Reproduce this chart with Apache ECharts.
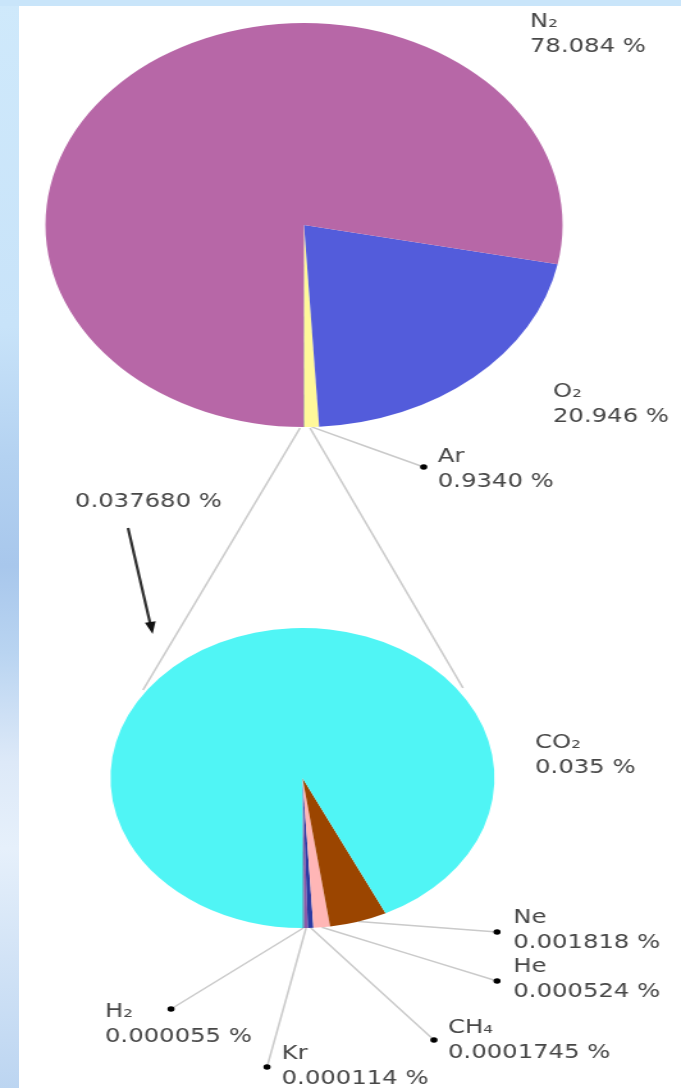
<!DOCTYPE html>
<html>
<head>
<meta charset="utf-8">
<title>Composition of dry air</title>
<script src="https://cdn.jsdelivr.net/npm/echarts@6/dist/echarts.min.js"></script>
<style>
  html, body { margin: 0; padding: 0; width: 681px; height: 1088px; overflow: hidden; background: #ffffff; }
  #frameLeft {
    position: absolute; left: 0; top: 0; width: 19px; height: 1088px;
    background: linear-gradient(to bottom, #cfe9fb 0%, #c8e3f9 30%, #b4d2f1 42%, #a8c7ec 52%, #b9d4f1 60%, #dde9f8 70%, #e6f0fb 78%, #d2e3f6 88%, #bcd5f1 100%);
  }
  #frameTop { position: absolute; left: 0; top: 0; width: 681px; height: 6px; background: #c9e5fa; }
  /* the drawing is laid out on a 532px-wide canvas and widened to the page */
  #chart { position: absolute; left: 0; top: 0; width: 532px; height: 1088px; transform: scaleX(1.28); transform-origin: 0 0; }
</style>
</head>
<body>
<div id="frameLeft"></div>
<div id="frameTop"></div>
<div id="chart"></div>
<script>
// Main constituents of dry air (volume %), listed counter-clockwise from 6 o'clock
const airNames = ['Ar', 'O₂', 'N₂', 'Trace'];
const airValues = ['0.9340', '20.946', '78.084', '0.037680'];
const airColors = ['#fff89a', '#535cdb', '#b767a7', '#7a7a7a'];

// Trace gases that make up the small remainder
const traceNames = ['H₂', 'Kr', 'CH₄', 'He', 'Ne', 'CO₂'];
const traceValues = ['0.000055', '0.000114', '0.0001745', '0.000524', '0.001818', '0.035'];
const traceColors = ['#1a80a2', '#8a5aa8', '#2b3aa3', '#ffb6b6', '#9b4500', '#50f5f5'];

const TEXT_COLOR = '#474747';
const FONT = 'DejaVu Sans';
const LINE_COLOR = '#cacaca';

// Label placement: text block (left, middle) and the dot that ends the leader line
const airSpots = {
  'N₂': { text: [414, 35] },
  'O₂': { text: [432, 405] },
  'Ar': { text: [342, 470], dot: [331, 467] }
};
const traceSpots = {
  'CO₂': { text: [418, 756] },
  'Ne': { text: [401, 931], dot: [388.3, 932] },
  'He': { text: [401, 980], dot: [388.3, 981] },
  'CH₄': { text: [350, 1041], dot: [339, 1040] },
  'Kr': { text: [220, 1067], dot: [208.6, 1067] },
  'H₂': { text: [82, 1025], dot: [133.6, 1009] }
};

function buildData(names, values, colors, spots) {
  return names.map(function (name, i) {
    const spot = spots[name];
    const item = { name: name, value: Number(values[i]), itemStyle: { color: colors[i] } };
    if (!spot) {
      item.label = { show: false };
      item.labelLine = { show: false };
    } else if (!spot.dot) {
      item.labelLine = { show: false };
    }
    return item;
  });
}

function labelFormatter(values) {
  return function (p) { return p.name + '\n' + values[p.dataIndex] + ' %'; };
}

function placeLabels(names, spots) {
  return function (p) {
    const spot = spots[names[p.dataIndex]];
    if (!spot) return {};
    const out = { x: spot.text[0], y: spot.text[1], align: 'left', verticalAlign: 'middle' };
    if (spot.dot && p.labelLinePoints) {
      const start = p.labelLinePoints[0];
      const mid = [(start[0] + spot.dot[0]) / 2, (start[1] + spot.dot[1]) / 2];
      out.labelLinePoints = [start, mid, spot.dot];
    }
    return out;
  };
}

function pieSeries(names, values, colors, spots, center, radius) {
  return {
    type: 'pie',
    center: center,
    radius: radius,
    startAngle: -90,
    clockwise: false,
    avoidLabelOverlap: false,
    silent: true,
    z: 2,
    label: {
      show: true,
      position: 'outside',
      formatter: labelFormatter(values),
      color: TEXT_COLOR,
      fontFamily: FONT,
      fontSize: 19,
      lineHeight: 25,
      align: 'left'
    },
    labelLine: { show: true, lineStyle: { color: LINE_COLOR, width: 1.5 } },
    labelLayout: placeLabels(names, spots),
    emphasis: { disabled: true },
    data: buildData(names, values, colors, spots)
  };
}

function dots(spots) {
  return Object.keys(spots).filter(function (k) { return spots[k].dot; }).map(function (k) {
    return {
      type: 'circle', z: 20,
      shape: { cx: spots[k].dot[0], cy: spots[k].dot[1], r: 2.8 },
      style: { fill: '#000000' }
    };
  });
}

const chart = echarts.init(document.getElementById('chart'), null, { renderer: 'canvas' });

const graphics = [
  // guide lines from the sliver of trace gases to the enlarged pie
  { type: 'line', z: 1, shape: { x1: 234.4, y1: 428, x2: 111.7, y2: 690 }, style: { stroke: LINE_COLOR, lineWidth: 1.6 } },
  { type: 'line', z: 1, shape: { x1: 242.2, y1: 428, x2: 361.7, y2: 688 }, style: { stroke: LINE_COLOR, lineWidth: 1.6 } },
  // total of the trace gases, with an arrow pointing at the enlarged pie
  {
    type: 'text', z: 20, x: 58.6, y: 502,
    style: { text: airValues[3] + ' %', fill: TEXT_COLOR, font: '19px "' + FONT + '"', verticalAlign: 'middle', align: 'left' }
  },
  { type: 'line', z: 20, shape: { x1: 100, y1: 528, x2: 117.4, y2: 624 }, style: { stroke: '#303030', lineWidth: 2.2 } },
  { type: 'polygon', z: 20, shape: { points: [[119.2, 634], [121.6, 621.2], [113.2, 622.8]] }, style: { fill: '#111111' } }
].concat(dots(airSpots), dots(traceSpots));

chart.setOption({
  animation: false,
  backgroundColor: 'transparent',
  graphic: { elements: graphics },
  series: [
    pieSeries(airNames, airValues, airColors, airSpots, [237.5, 225], 202),
    pieSeries(traceNames, traceValues, traceColors, traceSpots, [236.3, 778], 150)
  ]
});
</script>
</body>
</html>
